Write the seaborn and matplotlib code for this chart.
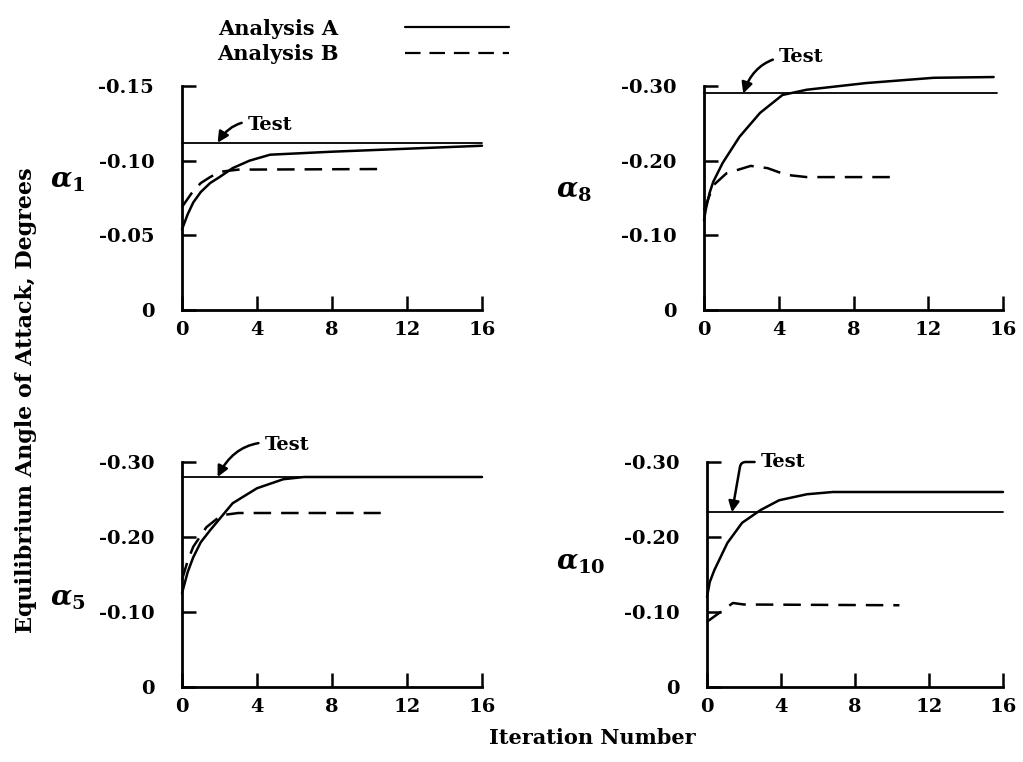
import pandas as pd
import seaborn as sns
import matplotlib

matplotlib.use("Agg")
import matplotlib.pyplot as plt
from matplotlib.lines import Line2D

# 读图得到的数据 (iteration number vs equilibrium angle of attack, deg)
# alpha_1
a1_iter_A = [0, 0.3, 0.6, 1.0, 1.5, 2.0, 2.7, 3.6, 4.7, 8, 12, 16]
a1_val_A = [-0.054, -0.064, -0.072, -0.079, -0.085, -0.089, -0.095, -0.100, -0.104, -0.106, -0.108, -0.110]
a1_iter_B = [0, 0.5, 1.0, 1.5, 2.0, 3.0, 10.7]
a1_val_B = [-0.069, -0.078, -0.085, -0.089, -0.0925, -0.094, -0.0944]
a1_test = -0.112
# alpha_8
a8_iter_A = [0, 0.1, 0.3, 0.5, 1.0, 1.9, 3.0, 4.2, 5.5, 8.7, 12.3, 15.5]
a8_val_A = [-0.120, -0.135, -0.157, -0.172, -0.197, -0.232, -0.264, -0.288, -0.295, -0.304, -0.311, -0.312]
a8_iter_B = [0, 0.5, 1.2, 2.5, 3.4, 4.4, 5.5, 10.1]
a8_val_B = [-0.134, -0.167, -0.183, -0.193, -0.190, -0.181, -0.178, -0.178]
a8_test = -0.290
# alpha_5
a5_iter_A = [0, 0.3, 0.6, 1.0, 1.5, 2.7, 4.0, 5.4, 6.5, 16]
a5_val_A = [-0.125, -0.153, -0.173, -0.193, -0.209, -0.245, -0.265, -0.277, -0.280, -0.280]
a5_iter_B = [0, 0.3, 0.6, 1.3, 2.1, 3.0, 10.6]
a5_val_B = [-0.143, -0.168, -0.187, -0.213, -0.229, -0.232, -0.232]
a5_test = -0.280
# alpha_10
a10_iter_A = [0, 0.15, 0.4, 1.1, 1.9, 2.9, 3.9, 5.4, 6.8, 16]
a10_val_A = [-0.120, -0.140, -0.156, -0.192, -0.219, -0.236, -0.249, -0.257, -0.260, -0.260]
a10_iter_B = [0, 0.9, 1.4, 2.0, 10.4]
a10_val_B = [-0.087, -0.103, -0.112, -0.110, -0.109]
a10_test = -0.233

x_ticks = [0, 4, 8, 12, 16]
x_ticklabels = ["0", "4", "8", "12", "16"]
y_ticks_small = [0, -0.05, -0.10, -0.15]
y_ticklabels_small = ["0", "-0.05", "-0.10", "-0.15"]
y_ticks_big = [0, -0.10, -0.20, -0.30]
y_ticklabels_big = ["0", "-0.10", "-0.20", "-0.30"]

sns.set_theme(style="ticks")
plt.rcParams["font.family"] = ["DejaVu Serif"]
plt.rcParams["font.weight"] = "bold"
plt.rcParams["mathtext.fontset"] = "dejavuserif"
plt.rcParams["axes.unicode_minus"] = False
plt.rcParams["text.color"] = "black"
plt.rcParams["xtick.color"] = "black"
plt.rcParams["ytick.color"] = "black"
plt.rcParams["xtick.labelcolor"] = "black"
plt.rcParams["ytick.labelcolor"] = "black"

fig = plt.figure(figsize=(10.23, 7.62), dpi=100)
W, H = 1023.0, 762.0


def add_ax(x0, x1, ytop, ybot):
    return fig.add_axes([x0 / W, 1 - ybot / H, (x1 - x0) / W, (ybot - ytop) / H])


panels = [
    dict(box=(182, 482, 86, 310), A=(a1_iter_A, a1_val_A), B=(a1_iter_B, a1_val_B),
         test=a1_test, test_end=16, yt=y_ticks_small, ytl=y_ticklabels_small,
         name=r"$\alpha_1$", apos=(50, 180), tpos=(3.5, -0.124), tip=1.9,
         conn="arc3,rad=0.4"),
    dict(box=(704, 1003, 86, 310), A=(a8_iter_A, a8_val_A), B=(a8_iter_B, a8_val_B),
         test=a8_test, test_end=15.7, yt=y_ticks_big, ytl=y_ticklabels_big,
         name=r"$\alpha_8$", apos=(556, 190), tpos=(4.0, -0.339), tip=2.1,
         conn="arc3,rad=0.4"),
    dict(box=(182, 482, 462, 687), A=(a5_iter_A, a5_val_A), B=(a5_iter_B, a5_val_B),
         test=a5_test, test_end=16, yt=y_ticks_big, ytl=y_ticklabels_big,
         name=r"$\alpha_5$", apos=(50, 598), tpos=(4.4, -0.323), tip=1.9,
         conn="arc3,rad=0.4"),
    dict(box=(707, 1003, 462, 687), A=(a10_iter_A, a10_val_A), B=(a10_iter_B, a10_val_B),
         test=a10_test, test_end=16, yt=y_ticks_big, ytl=y_ticklabels_big,
         name=r"$\alpha_{10}$", apos=(556, 562), tpos=(2.9, -0.300), tip=1.35,
         conn="angle,angleA=0,angleB=80,rad=5"),
]

for p in panels:
    ax = add_ax(*p["box"])
    df = pd.concat([
        pd.DataFrame({"iteration": p["A"][0], "alpha": p["A"][1], "analysis": "Analysis A"}),
        pd.DataFrame({"iteration": p["B"][0], "alpha": p["B"][1], "analysis": "Analysis B"}),
    ])
    sns.lineplot(data=df, x="iteration", y="alpha", style="analysis",
                 dashes={"Analysis A": "", "Analysis B": (7, 4)},
                 color="black", linewidth=1.8, sort=False, estimator=None,
                 legend=False, ax=ax, clip_on=False)
    ax.plot([0, p["test_end"]], [p["test"], p["test"]], color="black", lw=1.3, clip_on=False)

    ax.set_xlim(0, 16)
    ax.set_ylim(0, p["yt"][-1])
    ax.set_xticks(x_ticks)
    ax.set_xticklabels(x_ticklabels)
    ax.set_yticks(p["yt"])
    ax.set_yticklabels(p["ytl"])
    ax.tick_params(direction="in", length=10, width=1.8, labelsize=14, pad=8, color="black",
                   labelcolor="black")
    ax.tick_params(axis="y", pad=20)
    for lab in ax.get_xticklabels() + ax.get_yticklabels():
        lab.set_fontweight("bold")
    sns.despine(ax=ax)
    for s in ["left", "bottom"]:
        ax.spines[s].set_linewidth(2.0)
        ax.spines[s].set_color("black")
    ax.set_xlabel("")
    ax.set_ylabel("")

    ax.annotate("Test", xy=(p["tip"], p["test"]), xytext=p["tpos"],
                fontsize=14, fontweight="bold", ha="left", va="center", color="black",
                annotation_clip=False,
                arrowprops=dict(arrowstyle="-|>", color="black", lw=1.8,
                                mutation_scale=16, shrinkA=2, shrinkB=0,
                                connectionstyle=p["conn"]))

    fig.text(p["apos"][0] / W, 1 - p["apos"][1] / H, p["name"], fontsize=20,
             ha="left", va="center", color="black")

fig.text(26 / W, 1 - 400 / H, "Equilibrium Angle of Attack, Degrees", rotation=90,
         ha="center", va="center", fontsize=16, fontweight="bold", color="black")
fig.text(592 / W, 1 - 738 / H, "Iteration Number", ha="center", va="center",
         fontsize=15, fontweight="bold", color="black")

handles = [Line2D([], [], color="black", lw=1.6),
           Line2D([], [], color="black", lw=1.6, dashes=(7, 4))]
fig.legend(handles, ["Analysis A", "Analysis B"], loc="upper left",
           bbox_to_anchor=(198 / W, 1.0), frameon=False, markerfirst=False,
           handlelength=5.0, handletextpad=3.2, labelspacing=0.25,
           labelcolor="black", prop={"size": 15, "weight": "bold"})

fig.savefig("out.png", dpi=100)
